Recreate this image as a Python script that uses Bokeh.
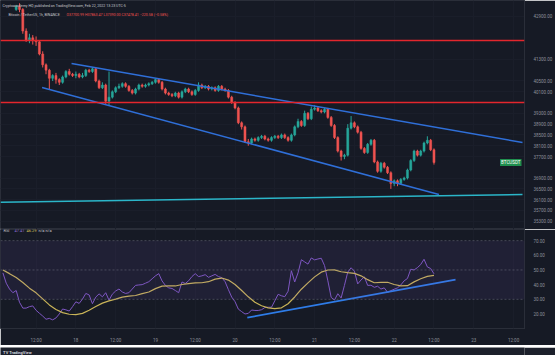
from bokeh.plotting import figure
from bokeh.layouts import column
from bokeh.models import (FixedTicker, Label, Span, Range1d, ColumnDataSource,
                          BoxAnnotation, PrintfTickFormatter)
from bokeh.embed import file_html
from bokeh.resources import INLINE

# ---------------- data (hours since Feb 17 00:00) ----------------
hours = list(range(6, 133))
opens = [43150, 43250, 43150, 42350, 42000, 42100, 42000, 41950, 41500, 41100,
         40900, 40600, 40700, 40550, 40450, 40650, 40850, 40750, 40700, 40750,
         40650, 40700, 40900, 40850, 40950, 40500, 40250, 40350, 39750, 39900,
         40100, 40250, 40300, 40400, 40300, 40150, 40050, 40200, 40350, 40300,
         40350, 40400, 40450, 40550, 40450, 40200, 40050, 40000, 39950, 40050,
         39900, 40100, 40200, 40100, 40000, 40150, 40350, 40250, 40300, 40200,
         40250, 40150, 40300, 40200, 40150, 39900, 39700, 39500, 38950, 38800,
         38250, 38200, 38350, 38300, 38400, 38450, 38350, 38300, 38400, 38450,
         38400, 38500, 38400, 38300, 38500, 38800, 39000, 38850, 39300, 39100,
         39450, 39500, 39400, 39350, 39450, 39150, 38850, 38400, 37900, 37700,
         37750, 38750, 38950, 38800, 38600, 38000, 37850, 38150, 38300, 37500,
         37150, 37450, 37300, 37100, 36700, 36800, 36700, 36850, 36900, 37200,
         37550, 37900, 37750, 37900, 38200, 38300, 37950]
closes = [43250, 43150, 42350, 42000, 42100, 42000, 41950, 41500, 41100, 40900,
          40600, 40700, 40550, 40450, 40650, 40850, 40750, 40700, 40750, 40650,
          40700, 40900, 40850, 40950, 40500, 40250, 40350, 39750, 39900, 40100,
          40250, 40300, 40400, 40300, 40150, 40050, 40200, 40350, 40300, 40350,
          40400, 40450, 40550, 40450, 40200, 40050, 40000, 39950, 40050, 39900,
          40100, 40200, 40100, 40000, 40150, 40350, 40250, 40300, 40200, 40250,
          40150, 40300, 40200, 40150, 39900, 39700, 39500, 38950, 38800, 38250,
          38200, 38350, 38300, 38400, 38450, 38350, 38300, 38400, 38450, 38400,
          38500, 38400, 38300, 38500, 38800, 39000, 38850, 39300, 39100, 39450,
          39500, 39400, 39350, 39450, 39150, 38850, 38400, 37900, 37700, 37750,
          38750, 38950, 38800, 38600, 38000, 37850, 38150, 38300, 37500, 37150,
          37450, 37300, 37100, 36700, 36800, 36700, 36850, 36900, 37200, 37550,
          37900, 37750, 37900, 38200, 38300, 37950, 37478.41]
highs = [43320, 43380, 43200, 42450, 42250, 42200, 42150, 42000, 41600, 41150,
         40950, 40750, 40800, 40600, 40700, 40900, 40950, 40800, 40850, 40800,
         40800, 40950, 40950, 41000, 40980, 40550, 40450, 40400, 40850, 40150,
         40300, 40400, 40450, 40450, 40350, 40200, 40250, 40400, 40400, 40400,
         40450, 40500, 40600, 40600, 40500, 40250, 40100, 40050, 40100, 40100,
         40150, 40250, 40250, 40150, 40200, 40450, 40400, 40350, 40350, 40300,
         40300, 40350, 40350, 40250, 40200, 39950, 39750, 39550, 39000, 38850,
         38350, 38400, 38400, 38450, 38500, 38500, 38400, 38450, 38500, 38500,
         38550, 38550, 38450, 38550, 38850, 39100, 39050, 39400, 39350, 39550,
         39600, 39550, 39450, 39500, 39500, 39200, 38900, 38450, 37950, 37800,
         38900, 39200, 39000, 38850, 38650, 38050, 38200, 38350, 38350, 37550,
         37500, 37500, 37350, 37150, 36850, 36850, 36900, 36950, 37250, 37600,
         37950, 37950, 37950, 38250, 38450, 38350, 38000]
lows = [43100, 43050, 42250, 41950, 41900, 41850, 41800, 41450, 41000, 40750,
        40200, 40500, 40400, 40350, 40400, 40600, 40700, 40650, 40600, 40600,
        40600, 40650, 40800, 40800, 40450, 40200, 40200, 39650, 39600, 39850,
        40050, 40200, 40250, 40250, 40100, 40000, 40000, 40150, 40250, 40250,
        40300, 40350, 40400, 40400, 40150, 40000, 39950, 39900, 39900, 39850,
        39850, 40050, 40050, 39950, 39950, 40100, 40200, 40200, 40150, 40150,
        40100, 40100, 40150, 40100, 39850, 39650, 39450, 38900, 38700, 38200,
        38100, 38150, 38250, 38250, 38350, 38300, 38250, 38250, 38350, 38350,
        38350, 38350, 38250, 38250, 38450, 38750, 38800, 38800, 39050, 39050,
        39400, 39350, 39300, 39300, 39100, 38800, 38350, 37850, 37550, 37600,
        37700, 38700, 38750, 38550, 37950, 37800, 37800, 38100, 37450, 37100,
        37100, 37250, 37050, 36500, 36600, 36600, 36650, 36800, 36850, 37150,
        37500, 37700, 37700, 37850, 38150, 37900, 37400]

rsi_hours = list(range(2, 133))
rsi = [48, 41, 37, 34.5, 36, 28, 24, 24, 25, 25.5,
       22.5, 20.5, 18.6, 16.4, 17, 16, 17.3, 20, 23.4, 22.8,
       22, 25, 28.3, 27.2, 30.2, 34, 33, 27, 31.5, 33.7,
       31.7, 34.5, 29.4, 33.5, 35.7, 37, 35, 34, 34.5, 37,
       39.5, 39.8, 40, 41, 42, 44, 46, 47.5, 42.5, 39.5,
       37.8, 37.4, 36, 34.5, 41.8, 40.8, 42.6, 45.5, 47.5, 45.5,
       46, 46.8, 45, 46, 47, 45.5, 44.8, 42, 36.6, 31.5,
       28.4, 23.3, 21.6, 20, 20.4, 22.7, 22.4, 22.4, 22.9, 24.4,
       24.6, 24.6, 29, 33.4, 32.4, 31.8, 35.5, 49.5, 41.8, 48,
       57, 55.5, 54, 58.2, 56.9, 57.5, 58, 53, 42.6, 31.3,
       29.5, 33.8, 30.9, 39.5, 48.6, 51.5, 49.2, 40.5, 43.2, 45.3,
       39.5, 39.6, 38.2, 38.9, 37, 37.8, 34.8, 35.9, 36.9, 37.8,
       39.8, 42.6, 44.2, 50.5, 50, 51.6, 53.7, 57.3, 52.1, 51, 47.41]
rsi_ma_hours = list(range(2, 133, 2))
rsi_ma = [50, 47.5, 44.8, 41.5, 37.6, 34.4, 30.3, 26.2, 23.1, 20.9,
          19.8, 19.6, 20.4, 22.6, 25.1, 27.4, 28.9, 30.1, 31.5, 32.2,
          32.6, 33.9, 35, 37.3, 39, 39.1, 39.1, 40.1, 40.7, 41.2,
          41.3, 42, 43.8, 44.5, 43.1, 40.1, 36, 31.7, 28, 25.6,
          24.2, 23.6, 24.2, 27, 31.6, 36.9, 41.2, 45.3, 48.5, 50,
          50.1, 48.8, 48.2, 47.7, 46, 43.4, 41.3, 41.6, 41.6, 40.1,
          39.2, 39.3, 41.9, 44, 45.6, 46.29]

price_ticks = [42900, 41300, 40500, 40100, 39300, 38900, 38500, 38100, 37700,
               36900, 36500, 36100, 35700, 35300]
rsi_ticks = [20, 30, 40, 50, 60, 70]
rsi_levels = [70, 50, 30]
x_tick_pos = [12, 24, 36, 48, 60, 72, 84, 96, 108, 120, 132, 144, 156]
x_tick_labels = ["12:00", "18", "12:00", "19", "12:00", "20", "12:00", "21",
                 "12:00", "22", "12:00", "23", "12:00"]

red_levels = [42000, 39700]
red_level_labels = ["42000.00", "39700.00"]
support_h = [1.27, 158.7]
support_p = [36000, 36290]
upper_ch_h = [22.7, 158.7]
upper_ch_p = [41150, 38220]
lower_ch_h = [13.8, 133.5]
lower_ch_p = [40260, 36290]
rsi_trend_h = [75.7, 138.5]
rsi_trend_v = [17.5, 43.4]
last_price = 37478.41

# ---------------- styling ----------------
FONT = "Roboto"
BG = "#161a25"
GRID = "#1a1e2a"
BORDER = "#2a2e39"
TXT = "#8d909a"
UP = "#26a69a"
DOWN = "#ef5350"
RED = "#e3262d"
BLUE = "#2f6fd8"
CYAN = "#2bb6c9"
X_LO, X_HI = 1.27, 159.3

src = ColumnDataSource(dict(
    h=hours, o=opens, hi=highs, lo=lows, c=closes,
    top=[max(a, b) for a, b in zip(opens, closes)],
    bot=[min(a, b) for a, b in zip(opens, closes)],
    col=[UP if c >= o else DOWN for o, c in zip(opens, closes)],
))

p = figure(width=555, height=229, x_range=Range1d(X_LO, X_HI),
           y_range=Range1d(34994, 43483), output_backend="svg",
           toolbar_location=None, y_axis_location="right", x_axis_location=None,
           min_border_left=0, min_border_right=25, min_border_top=0,
           min_border_bottom=0, background_fill_color=BG, border_fill_color=BG,
           outline_line_color=BORDER)
p.ygrid.grid_line_color = GRID
p.yaxis.ticker = FixedTicker(ticks=price_ticks)
p.yaxis.formatter = PrintfTickFormatter(format="%.2f")
p.xgrid.ticker = FixedTicker(ticks=x_tick_pos)
p.xgrid.grid_line_color = GRID
for ax in p.yaxis:
    ax.major_label_text_font_size = "4.5px"
    ax.major_label_text_color = TXT
    ax.major_label_text_font = FONT
    ax.major_tick_line_color = None
    ax.minor_tick_line_color = None
    ax.axis_line_color = BORDER
    ax.major_label_standoff = 3

p.segment(x0="h", x1="h", y0="lo", y1="hi", color="col", line_width=1, source=src)
p.vbar(x="h", width=0.62, top="top", bottom="bot", fill_color="col",
       line_color="col", line_width=0.5, source=src)

for lvl in red_levels:
    p.add_layout(Span(location=lvl, dimension="width", line_color=RED, line_width=1.6))
p.line(upper_ch_h, upper_ch_p, line_color=BLUE, line_width=1.5)
p.line(lower_ch_h, lower_ch_p, line_color=BLUE, line_width=1.5)
p.line(support_h, support_p, line_color=CYAN, line_width=1.5)

for lvl, lab in zip(red_levels, red_level_labels):
    p.add_layout(Label(x=X_HI, y=lvl, text=lab, text_align="left",
                       text_baseline="middle", text_color="white",
                       text_font_size="4.5px", text_font=FONT, x_offset=0.5,
                       background_fill_color=RED, padding=1))
p.add_layout(Label(x=X_HI, y=last_price, text="37478.41\n36:11", text_align="left",
                   text_baseline="middle", text_color="white", text_font_size="4.5px",
                   text_font=FONT, x_offset=0.5, background_fill_color="#1f8f4e",
                   padding=1))
p.add_layout(Label(x=X_HI, y=last_price, text="BTCUSDT", text_align="right",
                   text_baseline="middle", text_color="white", text_font_size="4.5px",
                   text_font=FONT, x_offset=-3, background_fill_color="#1f8f4e",
                   padding=1))

p.add_layout(Label(x=2, y=224, x_units="screen", y_units="screen",
                   text="Cryptoacademy HQ published on TradingView.com, Feb 22, 2022 13:23 UTC-5",
                   text_font_size="3.6px", text_color="#c8cad0", text_font=FONT,
                   text_baseline="middle"))
p.add_layout(Label(x=8, y=215, x_units="screen", y_units="screen",
                   text="Bitcoin / TetherUS, 1h, BINANCE",
                   text_font_size="3.6px", text_color="#c8cad0", text_font=FONT,
                   text_baseline="middle"))
p.add_layout(Label(x=66, y=215, x_units="screen", y_units="screen",
                   text="O37700.99  H37863.47  L37390.00  C37478.41  \u2212220.58 (\u22120.58%)",
                   text_font_size="3.6px", text_color=DOWN, text_font=FONT,
                   text_baseline="middle"))

# ---------------- RSI panel ----------------
r = figure(width=555, height=116, x_range=p.x_range, y_range=Range1d(10.1, 77.6),
           output_backend="svg", toolbar_location=None, y_axis_location="right",
           min_border_left=0, min_border_right=25, min_border_top=0,
           min_border_bottom=12, background_fill_color=BG, border_fill_color=BG,
           outline_line_color=BORDER)
r.add_layout(BoxAnnotation(bottom=30, top=70, fill_color="#7e57c2", fill_alpha=0.1,
                           line_color=None))
for lv in rsi_levels:
    r.add_layout(Span(location=lv, dimension="width", line_color="#787b86",
                      line_alpha=0.6, line_dash="2 2", line_width=0.8))
r.ygrid.grid_line_color = None
r.xgrid.grid_line_color = GRID
r.yaxis.ticker = FixedTicker(ticks=rsi_ticks)
r.yaxis.formatter = PrintfTickFormatter(format="%.2f")
r.xaxis.ticker = FixedTicker(ticks=x_tick_pos)
r.xgrid.ticker = FixedTicker(ticks=x_tick_pos)
r.xaxis.major_label_overrides = dict(zip(x_tick_pos, x_tick_labels))
for ax in r.xaxis + r.yaxis:
    ax.major_label_text_font_size = "4.5px"
    ax.major_label_text_color = TXT
    ax.major_label_text_font = FONT
    ax.major_tick_line_color = None
    ax.minor_tick_line_color = None
    ax.axis_line_color = BORDER
    ax.major_label_standoff = 3
r.xaxis.axis_line_color = None

r.line(rsi_hours, rsi, line_color="#7e57c2", line_width=1)
r.line(rsi_ma_hours, rsi_ma, line_color="#c9b458", line_width=1.2)
r.line(rsi_trend_h, rsi_trend_v, line_color="#2e7ce8", line_width=1.8)

legend_parts = [("RSI", "#c8cad0", 3), ("47.41", "#8e6fd6", 14),
                ("46.29", "#d8c55a", 26), ("n/a  n/a", "#c8cad0", 38)]
for txt, colr, xx in legend_parts:
    r.add_layout(Label(x=xx, y=98, x_units="screen", y_units="screen", text=txt,
                       text_font_size="4px", text_color=colr, text_font=FONT,
                       text_baseline="middle"))

# ---------------- footer ----------------
f = figure(width=555, height=10, x_range=Range1d(0, 1), y_range=Range1d(0, 1),
           output_backend="svg", toolbar_location=None, x_axis_location=None,
           y_axis_location=None, min_border=0, background_fill_color="#1c202b",
           border_fill_color="#1c202b", outline_line_color=None)
f.xgrid.visible = False
f.ygrid.visible = False
f.add_layout(Label(x=0.005, y=0.5, text="TV TradingView", text_font_size="4px",
                   text_color="#d1d4dc", text_font=FONT, text_font_style="bold",
                   text_baseline="middle"))

layout = column(p, r, f, spacing=0)
open("out.html", "w").write(file_html(layout, INLINE))
